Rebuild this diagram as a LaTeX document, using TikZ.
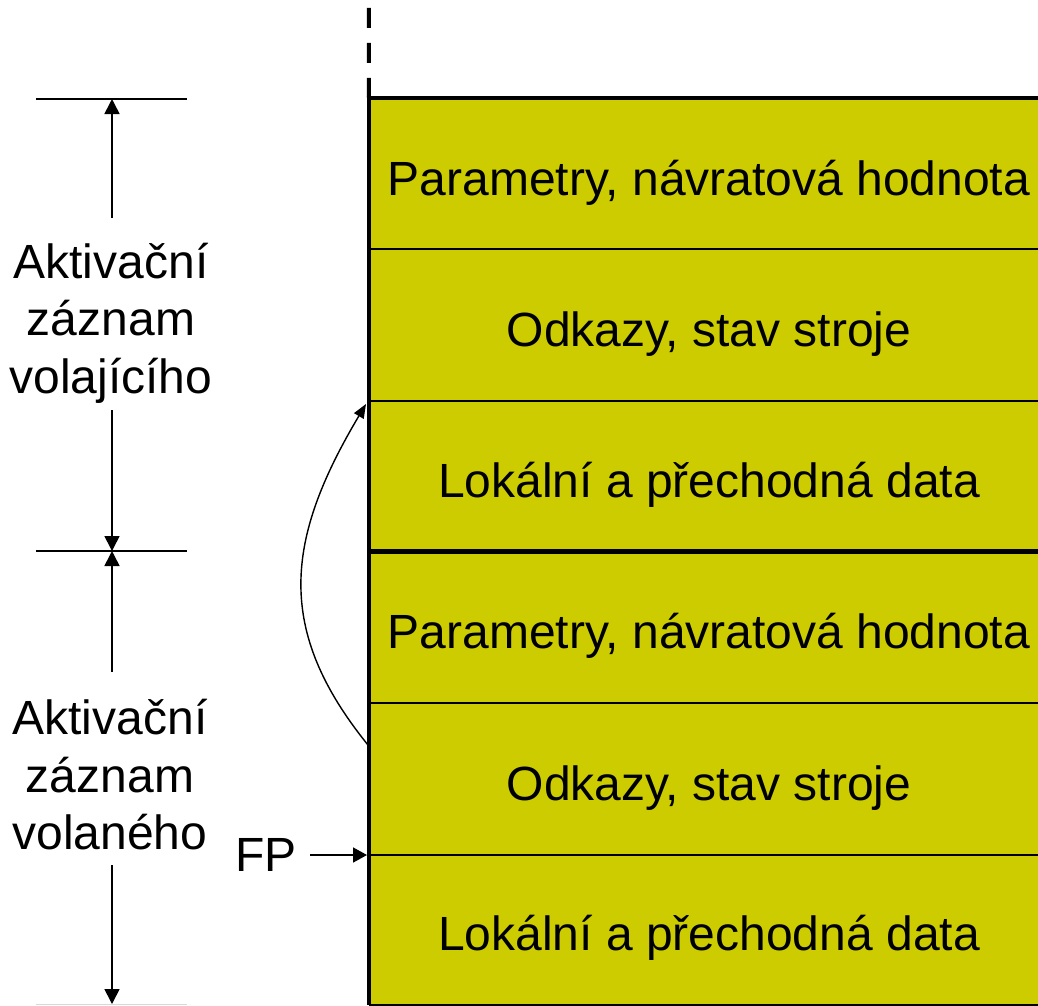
\documentclass[tikz,border=0pt]{standalone}
\usepackage{fontspec}
\setmainfont{Liberation Sans}
\usetikzlibrary{arrows.meta}
\definecolor{stackfill}{RGB}{204,204,0}
\begin{document}
\begin{tikzpicture}[x=1pt,y=-1pt,
  rowbox/.style={fill=stackfill, minimum width=680pt, minimum height=151pt, inner sep=0pt,
                 text height=43pt, text depth=0pt,
                 font=\fontsize{48}{57.5}\selectfont},
  lbl/.style={align=center, inner sep=0pt, font=\fontsize{48}{57.5}\selectfont},
  thinline/.style={line width=1.6pt},
  thickline/.style={line width=4.5pt},
  dimarrow/.style={line width=1.6pt, -{Triangle[length=15pt,width=15pt]}},
  ptrarrow/.style={line width=1.6pt, -{Triangle[length=14pt,width=15pt]}}]
\useasboundingbox (0,0) rectangle (1038,1005);
% rows
\node[rowbox] (r1) at (709,173.5) {Parametry, návratová hodnota};
\node[rowbox] (r2) at (709,325) {Odkazy, stav stroje};
\node[rowbox] (r3) at (709,476) {Lokální a přechodná data};
\node[rowbox] (r4) at (709,627) {Parametry, návratová hodnota};
\node[rowbox] (r5) at (709,779) {Odkazy, stav stroje};
\node[rowbox] (r6) at (709,929) {Lokální a přechodná data};
% separators
\draw[thinline] (r1.south west) -- (r1.south east);
\draw[thinline] (r2.south west) -- (r2.south east);
\draw[thickline] (r3.south west) -- (r3.south east);
\draw[thinline] (r4.south west) -- (r4.south east);
\draw[thinline] (r5.south west) -- (r5.south east);
\draw[thinline] (r6.south west) -- (r6.south east);
\draw[thickline] ([xshift=-2.2pt]r1.north west) -- (r1.north east);
\draw[thickline] (r1.north west) -- (r6.south west);
% dashed continuation
\coordinate (dtop) at (369,5);
\draw[line width=4pt, dash pattern=on 20pt off 15pt] (r1.north west) -- (dtop);
% dimension ticks
\coordinate (t1) at (112,99);
\coordinate (t2) at (112,551);
\coordinate (t3) at (112,1004);
\draw[thinline] (36,99) -- (187,99);
\draw[thinline] (36,551) -- (187,551);
\draw[line width=1pt, black!15] (36,1004) -- (187,1004);
% labels
\node[lbl] (l1) at (111,323) {Aktivační\\záznam\\volajícího};
\node[lbl] (l2) at (110,775) {Aktivační\\záznam\\volaného};
\draw[dimarrow] (112,218) -- (t1);
\draw[dimarrow] (112,410) -- (t2);
\draw[dimarrow] (112,672) -- (t2);
\draw[dimarrow] (112,865) -- (t3);
% FP pointer
\node[lbl, anchor=east] (fp) at (297,855) {FP};
\coordinate (fpend) at (367,855);
\draw[ptrarrow] (310,855) -- (fpend);
% curved link
\coordinate (cs) at (368,745);
\coordinate (ce) at (366,404);
\draw[line width=1.4pt, -{Triangle[length=14pt,width=11pt]}] (cs) .. controls (275,630) and (285,540) .. (ce);
\end{tikzpicture}
\end{document}
